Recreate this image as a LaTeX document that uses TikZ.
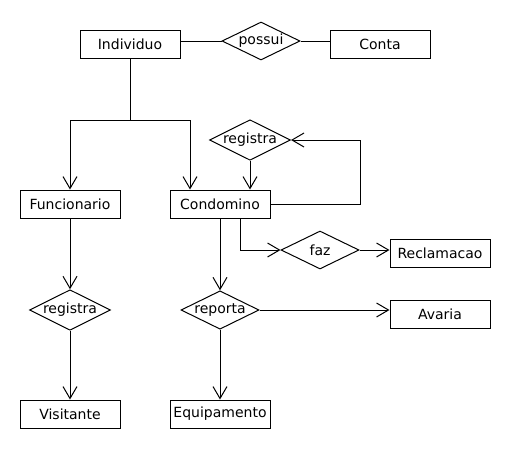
\documentclass[tikz,border=0pt]{standalone}
\usepackage{fontspec}
\setmainfont{DejaVu Sans}
\usetikzlibrary{shapes.geometric,arrows.meta}

\begin{document}
\begin{tikzpicture}[x=0.75pt, y=-0.75pt, line width=0.75pt,
    every node/.style={font=\fontsize{10.5}{12}\selectfont},
    entidade/.style={draw, rectangle, minimum width=75pt, minimum height=21pt, inner sep=0pt},
    relacao/.style={draw, diamond, shape aspect=2, minimum width=58.5pt, minimum height=28.5pt, inner sep=0pt},
    >={Straight Barb[length=9pt, width=10.5pt]}]

  \useasboundingbox (0,0) rectangle (510,450);

  % entidades
  \node[entidade] (individuo)   at (130,44)  {Individuo};
  \node[entidade] (conta)       at (380,44)  {Conta};
  \node[entidade] (funcionario) at (70,204)  {Funcionario};
  \node[entidade] (condomino)   at (220,204) {Condomino};
  \node[entidade] (reclamacao)  at (440,253) {Reclamacao};
  \node[entidade] (avaria)      at (440,314) {Avaria};
  \node[entidade] (visitante)   at (70,414)  {Visitante};
  \node[entidade] (equipamento) at (220,414) {Equipamento};

  % relacionamentos
  \node[relacao] (possui)    at (261,41)  {possui};
  \node[relacao] (registraA) at (250,140) {registra};
  \node[relacao] (faz)       at (320,250) {faz};
  \node[relacao] (reporta)   at (220,310) {reporta};
  \node[relacao] (registraB) at (70,310)  {registra};

  \coordinate (heranca) at (130,120);

  % ligacoes
  \draw (individuo.east |- possui) -- (possui.west);
  \draw (possui.east) -- (possui.east -| conta.west);
  \draw (individuo.south) -- (heranca);
  \draw[->] (heranca) -| (funcionario.north);
  \draw[->] (heranca) -| ([xshift=-22.5pt]condomino.north);

  \draw[->] (registraA.south) -- (registraA.south |- condomino.north);
  \draw[->] (condomino.east) -- ++(90,0) |- (registraA.east);

  \draw[->] ([xshift=15pt]condomino.south) |- (faz.west);
  \draw[->] (faz.east) -- (faz.east -| reclamacao.west);

  \draw[->] (condomino.south) -- (reporta.north);
  \draw[->] (reporta.east) -- (reporta.east -| avaria.west);
  \draw[->] (reporta.south) -- (equipamento.north);

  \draw[->] (funcionario.south) -- (registraB.north);
  \draw[->] (registraB.south) -- (visitante.north);
\end{tikzpicture}
\end{document}
